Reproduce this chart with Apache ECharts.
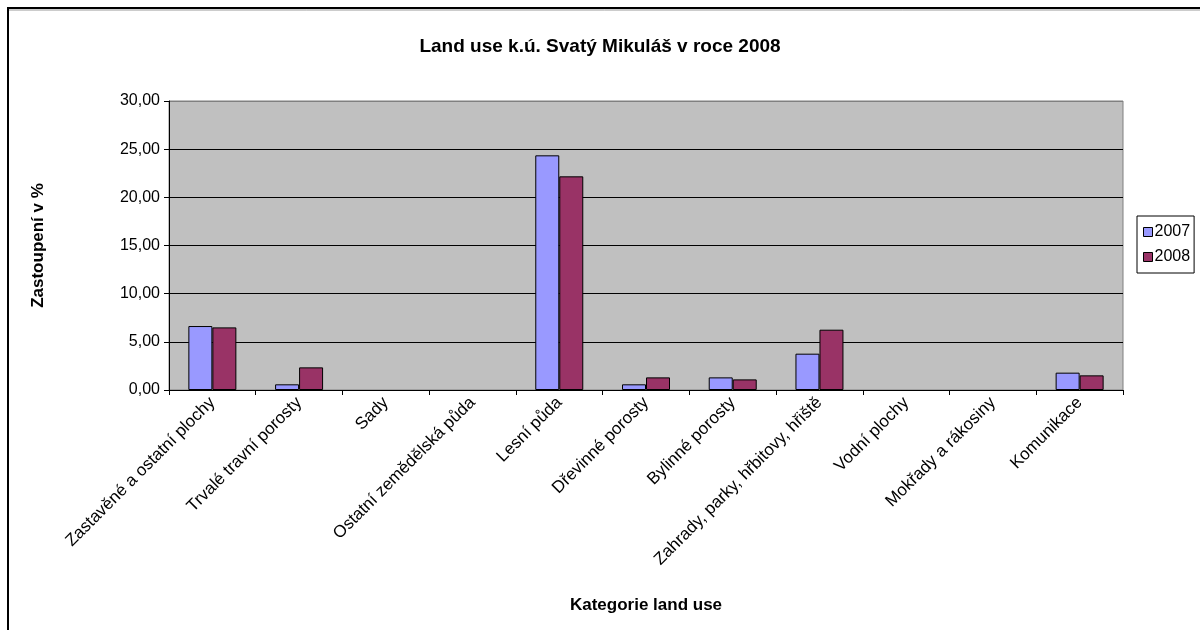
<!DOCTYPE html>
<html>
<head>
<meta charset="utf-8">
<script src="https://cdn.jsdelivr.net/npm/echarts@6/dist/echarts.min.js"></script>
<style>
html,body{margin:0;padding:0;background:#fff;}
#c{width:1200px;height:630px;}
</style>
</head>
<body>
<div id="c"></div>
<script>
var categories = ["Zastavěné a ostatní plochy","Trvalé travní porosty","Sady","Ostatní zemědělská půda","Lesní půda","Dřevinné porosty","Bylinné porosty","Zahrady, parky, hřbitovy, hřiště","Vodní plochy","Mokřady a rákosiny","Komunikace"];
var seriesNames = ["2007","2008"];
var values2007 = [6.64, 0.59, 0, 0, 24.36, 0.59, 1.31, 3.77, 0, 0, 1.80];
var values2008 = [6.50, 2.35, 0, 0, 22.18, 1.31, 1.10, 6.26, 0, 0, 1.52];
var yTicks = {min: 0, max: 30, interval: 5};

function noZero(arr) { return arr.map(function (v) { return v === 0 ? null : v; }); }

var FONT = "'Liberation Sans', Arial, sans-serif";
var chart = echarts.init(document.getElementById('c'), null, {renderer: 'canvas'});
chart.setOption({
  backgroundColor: '#ffffff',
  animation: false,
  textStyle: {fontFamily: FONT, color: '#000'},
  title: {
    text: 'Land use k.ú. Svatý Mikuláš v roce 2008',
    left: 'center', top: 32,
    textStyle: {fontFamily: FONT, fontSize: 19, fontWeight: 'bold', color: '#000'}
  },
  graphic: [{
    type: 'rect', silent: true,
    shape: {x: 8, y: 8, width: 1300, height: 700},
    style: {fill: 'none', stroke: '#000', lineWidth: 2}
  }, {
    type: 'line', silent: true,
    shape: {x1: 9, y1: 10, x2: 1200, y2: 10},
    style: {stroke: '#999', lineWidth: 1}
  }],
  legend: {
    orient: 'vertical', left: 1137, top: 216,
    data: seriesNames,
    icon: 'rect', itemWidth: 9, itemHeight: 9, itemGap: 9,
    padding: [8, 4, 8, 6],
    borderColor: '#000', borderWidth: 1,
    itemStyle: {borderColor: '#000', borderWidth: 1},
    textStyle: {fontFamily: FONT, fontSize: 16, color: '#000', padding: [0, 0, 0, -3]}
  },
  grid: {
    left: 169, right: 77, top: 101, bottom: 240,
    show: true, backgroundColor: '#C0C0C0', borderColor: '#808080', borderWidth: 1
  },
  xAxis: {
    type: 'category', data: categories,
    name: 'Kategorie land use', nameLocation: 'middle', nameGap: 207,
    nameTextStyle: {fontFamily: FONT, fontSize: 17, fontWeight: 'bold', color: '#000'},
    axisLine: {lineStyle: {color: '#000', width: 1}},
    axisTick: {show: true, length: 5, lineStyle: {color: '#000'}},
    axisLabel: {rotate: 45, interval: 0, fontFamily: FONT, fontSize: 17, color: '#000', margin: 10}
  },
  yAxis: {
    type: 'value', min: yTicks.min, max: yTicks.max, interval: yTicks.interval,
    name: 'Zastoupení v %', nameLocation: 'middle', nameGap: 122, nameRotate: 90,
    nameTextStyle: {fontFamily: FONT, fontSize: 17, fontWeight: 'bold', color: '#000'},
    axisLine: {show: true, lineStyle: {color: '#000', width: 1}},
    axisTick: {show: true, length: 5, lineStyle: {color: '#000'}},
    axisLabel: {fontFamily: FONT, fontSize: 16, color: '#000', margin: 9,
      formatter: function (v) { return v.toFixed(2).replace('.', ','); }},
    splitLine: {show: true, lineStyle: {color: ['#000','#000','#000','#000','#000','#000','#808080'], width: 1}}
  },
  series: [{
    name: seriesNames[0], type: 'bar', data: noZero(values2007),
    barWidth: 24, barGap: '0%',
    itemStyle: {color: '#9999FF', borderColor: '#000', borderWidth: 1}
  }, {
    name: seriesNames[1], type: 'bar', data: noZero(values2008),
    barWidth: 24, barGap: '0%',
    itemStyle: {color: '#993366', borderColor: '#000', borderWidth: 1}
  }]
});
</script>
</body>
</html>
